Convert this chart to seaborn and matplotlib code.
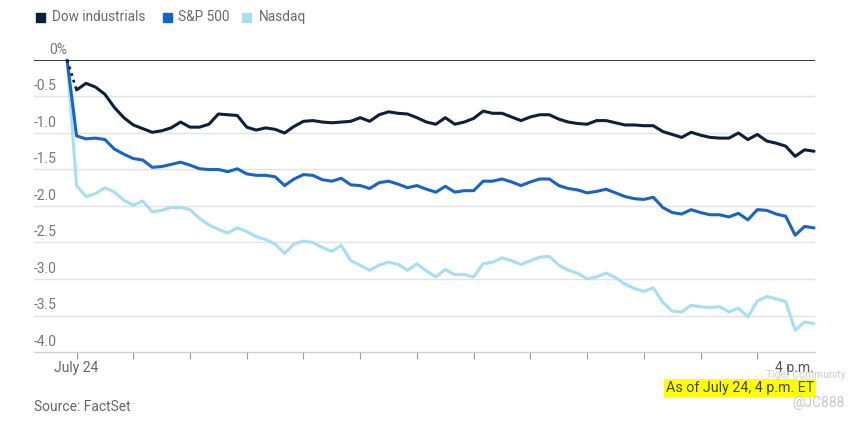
import numpy as np
import pandas as pd
import matplotlib
matplotlib.use("Agg")
import matplotlib.pyplot as plt
from matplotlib.patches import Rectangle
import seaborn as sns

# minutes after 9:30 (first point is previous close), 5-minute bars to 4 p.m.
minutes = [-5] + list(range(0, 391, 5))

dow = [0, -0.41, -0.32, -0.37, -0.47, -0.65, -0.79, -0.89, -0.94, -0.99, -0.97,
       -0.93, -0.85, -0.92, -0.92, -0.88, -0.74, -0.75, -0.76, -0.92, -0.96,
       -0.93, -0.95, -1.00, -0.91, -0.84, -0.83, -0.85, -0.86, -0.85, -0.84,
       -0.79, -0.84, -0.75, -0.71, -0.73, -0.74, -0.79, -0.85, -0.88, -0.79,
       -0.88, -0.85, -0.80, -0.70, -0.73, -0.73, -0.78, -0.83, -0.78, -0.75,
       -0.75, -0.81, -0.85, -0.87, -0.88, -0.83, -0.83, -0.86, -0.89, -0.89,
       -0.90, -0.90, -0.98, -1.02, -1.06, -0.99, -1.03, -1.06, -1.07, -1.07,
       -1.00, -1.09, -1.02, -1.11, -1.14, -1.18, -1.32, -1.23, -1.25]

sp500 = [0, -1.04, -1.08, -1.07, -1.09, -1.22, -1.29, -1.35, -1.37, -1.47, -1.46,
         -1.43, -1.40, -1.44, -1.49, -1.50, -1.50, -1.53, -1.49, -1.56, -1.58,
         -1.58, -1.60, -1.72, -1.63, -1.57, -1.58, -1.64, -1.66, -1.62, -1.71,
         -1.72, -1.76, -1.68, -1.66, -1.70, -1.75, -1.72, -1.77, -1.81, -1.73,
         -1.81, -1.79, -1.79, -1.66, -1.66, -1.63, -1.67, -1.72, -1.67, -1.63,
         -1.63, -1.72, -1.76, -1.78, -1.82, -1.80, -1.77, -1.82, -1.87, -1.90,
         -1.91, -1.88, -2.02, -2.09, -2.11, -2.05, -2.09, -2.12, -2.12, -2.15,
         -2.10, -2.19, -2.05, -2.06, -2.11, -2.14, -2.40, -2.28, -2.30]

nasdaq = [0, -1.72, -1.87, -1.83, -1.75, -1.81, -1.92, -1.99, -1.93, -2.08, -2.06,
          -2.02, -2.02, -2.05, -2.17, -2.26, -2.32, -2.37, -2.30, -2.35, -2.42,
          -2.46, -2.52, -2.65, -2.52, -2.48, -2.50, -2.57, -2.62, -2.54, -2.75,
          -2.81, -2.88, -2.81, -2.77, -2.80, -2.88, -2.79, -2.89, -2.97, -2.87,
          -2.94, -2.94, -2.97, -2.79, -2.77, -2.71, -2.75, -2.80, -2.75, -2.70,
          -2.69, -2.81, -2.88, -2.92, -3.00, -2.97, -2.92, -2.98, -3.07, -3.13,
          -3.17, -3.12, -3.32, -3.44, -3.45, -3.36, -3.38, -3.39, -3.38, -3.45,
          -3.40, -3.52, -3.30, -3.24, -3.27, -3.31, -3.70, -3.59, -3.61]

names = ["Dow industrials", "S&P 500", "Nasdaq"]
colors = ["#0c1f3d", "#1a63c3", "#a6def2"]
yticks = [0, -0.5, -1.0, -1.5, -2.0, -2.5, -3.0, -3.5, -4.0]
ylabels = ["0%", "-0.5", "-1.0", "-1.5", "-2.0", "-2.5", "-3.0", "-3.5", "-4.0"]
xticks = list(range(0, 361, 30))

W, H = 861, 422

sns.set_style("white")
plt.rcParams["font.family"] = ["Roboto", "DejaVu Sans"]

# long table; Dow's first interval is drawn dotted separately
df = pd.concat([
    pd.DataFrame({"t": minutes[1:], "pct": dow[1:], "index": names[0]}),
    pd.DataFrame({"t": minutes, "pct": sp500, "index": names[1]}),
    pd.DataFrame({"t": minutes, "pct": nasdaq, "index": names[2]}),
])

fig = plt.figure(figsize=(W / 100, H / 100), dpi=100)
ax = fig.add_axes([34 / W, 1 - 352 / H, (815 - 34) / W, (352 - 60) / H])

for v in yticks[1:-1]:
    ax.axhline(v, color="#e2e2e2", lw=1, zorder=0)

# lighter series first so the darker ones sit on top
for name in names[::-1]:
    sub = df[df["index"] == name]
    sns.lineplot(data=sub, x="t", y="pct", color=colors[names.index(name)],
                 lw=2.2, ax=ax, legend=False, clip_on=False, zorder=3)
ax.plot(minutes[:2], dow[:2], color=colors[0], lw=2, ls=(0, (1, 1.5)), zorder=3)

ax.axhline(0, color="black", lw=1.1, zorder=4)
ax.set_xlim(-22.5, 390.5)
ax.set_ylim(-4.0, 0)
ax.set_xlabel("")
ax.set_ylabel("")
ax.set_yticks([])
ax.set_xticks(xticks)
ax.set_xticklabels([])
ax.tick_params(axis="x", bottom=True, length=5, width=0.8, color="#9a9a9a")
for s in ["top", "left", "right"]:
    ax.spines[s].set_visible(False)
ax.spines["bottom"].set_color("#cfcfcf")
ax.spines["bottom"].set_linewidth(1)

for v, lab in zip(yticks, ylabels):
    xo = 15 if lab == "0%" else 0
    ax.annotate(lab, xy=(0, v), xycoords=("axes fraction", "data"),
                xytext=(xo * 0.72, 7.5), textcoords="offset points",
                ha="left", va="center", fontsize=10, color="#777777")

ax.annotate("July 24", xy=(0, -4.0), xycoords="data", xytext=(0, -11.5),
            textcoords="offset points", ha="center", va="center",
            fontsize=10, color="#666666")
ax.annotate("4 p.m.", xy=(390, -4.0), xycoords="data", xytext=(0, -11.5),
            textcoords="offset points", ha="right", va="center",
            fontsize=10, color="#555555")

# legend: small squares + labels along the top
sq_x = [36, 163, 242]
txt_x = [52, 178, 259]
for name, c, sx, tx in zip(names, colors, sq_x, txt_x):
    fig.patches.append(Rectangle((sx / W, 1 - 22 / H), 8.5 / W, 9 / H,
                                 transform=fig.transFigure, color=c))
    fig.text(tx / W, 1 - 17 / H, name, fontsize=9.8, color="#6a6a6a",
             va="center", ha="left")

fig.text(34 / W, 1 - 407 / H, "Source: FactSet", fontsize=10,
         color="#666666", va="center", ha="left")
fig.text(814 / W, 1 - 388 / H, "As of July 24, 4 p.m. ET", fontsize=10.3,
         color="#444444", va="center", ha="right",
         bbox=dict(facecolor="#ffff00", edgecolor="none", pad=1.5))
fig.text(845 / W, 1 - 375 / H, "Tiger Community", fontsize=7.5,
         color="#cdcdcd", va="center", ha="right")
fig.text(845 / W, 1 - 403 / H, "@JC888", fontsize=10,
         color="#c8c8c8", va="center", ha="right")

fig.savefig("out.png", dpi=100)
